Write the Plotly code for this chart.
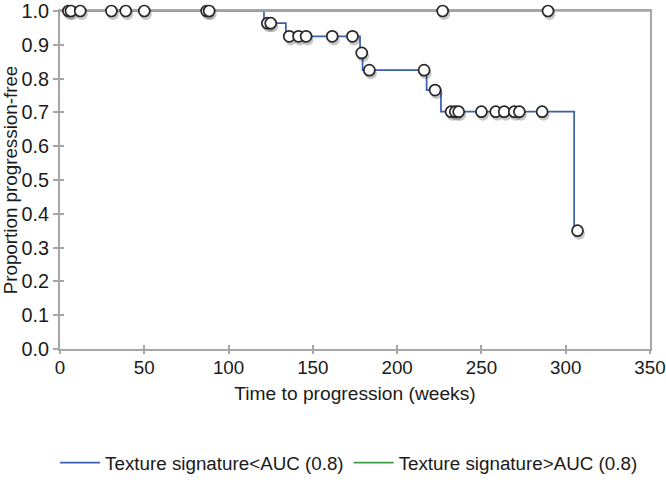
import plotly.graph_objects as go

# Kaplan-Meier step curve for Texture signature<AUC (0.8)
low_step_t = [0, 121, 134, 178, 179.5, 217.5, 226, 305]
low_step_s = [1.0, 0.964, 0.925, 0.876, 0.825, 0.766, 0.702, 0.35]

# censored observations (low group)
low_cens_t = [123, 125, 136, 141.5, 146, 161.5, 173.5, 179, 183.5, 216, 222.5,
              232, 234.5, 236.5, 250, 258.5, 263.5, 269.5, 272.5, 286, 307]
low_cens_s = [0.964, 0.964, 0.925, 0.925, 0.925, 0.925, 0.925, 0.876, 0.825, 0.825, 0.766,
              0.702, 0.702, 0.702, 0.702, 0.702, 0.702, 0.702, 0.702, 0.702, 0.35]

# Texture signature>AUC (0.8): no events
high_step_t = [0, 289.5]
high_step_s = [1.0, 1.0]
high_cens_t = [5, 6.5, 12, 30.5, 39, 50, 87, 88.5, 227, 289.5]
high_cens_s = [1.0] * len(high_cens_t)

x_ticks = [0, 50, 100, 150, 200, 250, 300, 350]
y_ticks = [0.0, 0.1, 0.2, 0.3, 0.4, 0.5, 0.6, 0.7, 0.8, 0.9, 1.0]
X_MAX = 350
Y_MAX = 1.0

FONT = "Liberation Sans, Arial, Helvetica, sans-serif"
AXIS_GRAY = "#a6a6a6"
BLUE = "#3a5fb0"
GREEN = "#3f9a48"

fig = go.Figure()

fig.add_trace(go.Scatter(x=high_step_t, y=high_step_s, mode="lines", line_shape="hv",
                         line=dict(color=GREEN, width=1.7),
                         name="Texture signature>AUC (0.8)", legendrank=2))
fig.add_trace(go.Scatter(x=low_step_t, y=low_step_s, mode="lines", line_shape="hv",
                         line=dict(color=BLUE, width=1.7),
                         name="Texture signature<AUC (0.8)", legendrank=1))
# top frame line drawn over the curves at 1.0
fig.add_trace(go.Scatter(x=[0, X_MAX], y=[Y_MAX, Y_MAX], mode="lines",
                         line=dict(color=AXIS_GRAY, width=1.6),
                         showlegend=False, hoverinfo="skip", cliponaxis=False))

all_t = high_cens_t + low_cens_t
all_s = high_cens_s + low_cens_s
# soft shadows
fig.add_trace(go.Scatter(x=[t + 0.9 for t in all_t], y=[s - 0.009 for s in all_s],
                         mode="markers", cliponaxis=False, showlegend=False, hoverinfo="skip",
                         marker=dict(symbol="circle", size=12, color="rgba(0,0,0,0.22)",
                                     line=dict(width=0))))
fig.add_trace(go.Scatter(x=all_t, y=all_s, mode="markers", cliponaxis=False, showlegend=False,
                         marker=dict(symbol="circle", size=11, color="white",
                                     line=dict(color="#262626", width=1.7))))

# overlay axes to give ticks crossing the axis line
fig.add_trace(go.Scatter(x=[None], y=[None], xaxis="x2", yaxis="y2", showlegend=False,
                         hoverinfo="skip"))

fig.update_layout(
    width=666, height=496,
    margin=dict(l=60, r=16, t=11, b=147, autoexpand=False),
    paper_bgcolor="white", plot_bgcolor="white",
    font=dict(family=FONT, size=19, color="#1a1a1a"),
    showlegend=True,
    legend=dict(orientation="h", x=0.49, xanchor="center", y=-0.337, yanchor="middle",
                font=dict(size=18.8), itemwidth=40, tracegroupgap=0,
                traceorder="normal"),
    xaxis=dict(range=[0, X_MAX + 0.01], tickvals=x_ticks, showgrid=False, zeroline=False,
               showline=True, linecolor=AXIS_GRAY, linewidth=2, mirror=True,
               ticks="inside", ticklen=4, tickwidth=2, tickcolor=AXIS_GRAY,
               layer="below traces", automargin=False, ticklabeloverflow="allow",
               tickfont=dict(size=18.8),
               title=dict(text="Time to progression (weeks)", standoff=10,
                          font=dict(size=19.2))),
    yaxis=dict(range=[0, Y_MAX], tickvals=y_ticks, tickformat=".1f", showgrid=False,
               zeroline=False, showline=True, linecolor=AXIS_GRAY, linewidth=2, mirror=True,
               ticks="outside", ticklen=5, tickwidth=2, tickcolor=AXIS_GRAY,
               layer="below traces", automargin=False, ticklabeloverflow="allow",
               tickfont=dict(size=19.8),
               title=dict(text="Proportion progression-free", standoff=2,
                          font=dict(size=18.8))),
    xaxis2=dict(range=[0, X_MAX + 0.01], tickvals=x_ticks, overlaying="x", showticklabels=False,
                showgrid=False, zeroline=False, ticks="outside", ticklen=4, tickwidth=2,
                tickcolor=AXIS_GRAY, layer="below traces", automargin=False),
    yaxis2=dict(range=[0, Y_MAX], tickvals=y_ticks, overlaying="y", showticklabels=False,
                showgrid=False, zeroline=False, ticks="inside", ticklen=4, tickwidth=2,
                tickcolor=AXIS_GRAY, layer="below traces", automargin=False),
)

fig.write_html("out.html", config={"displayModeBar": False},
               post_script="document.body.style.margin='0';")
